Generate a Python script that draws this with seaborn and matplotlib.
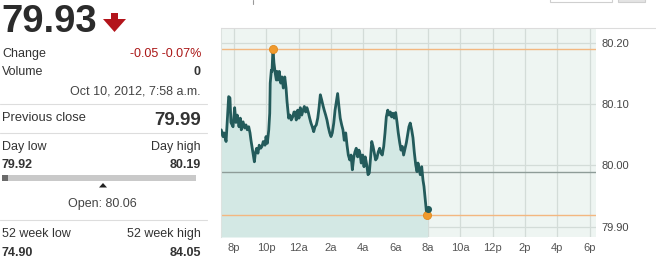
import matplotlib
matplotlib.use("Agg")
import matplotlib.pyplot as plt
import matplotlib.transforms as mtransforms
from matplotlib.patches import Polygon, Rectangle
from matplotlib.lines import Line2D
import seaborn as sns
import pandas as pd

# ---------------- data ----------------
hours = [19.21, 19.32, 19.38, 19.51, 19.67, 19.75, 19.81, 19.94, 20.04, 20.12,
         20.20, 20.31, 20.39, 20.45, 20.56, 20.66, 20.74, 20.82, 20.91, 20.99,
         21.05, 21.11, 21.19, 21.26, 21.32, 21.40, 21.48, 21.56, 21.65, 21.73,
         21.81, 21.92, 21.98, 22.06, 22.15, 22.21, 22.24, 22.31, 22.35, 22.41,
         22.47, 22.55, 22.62, 22.66, 22.72, 22.80, 22.89, 22.97, 23.05, 23.14,
         23.22, 23.28, 23.38, 23.46, 23.54, 23.63, 23.71, 23.77, 23.85, 23.94,
         24.02, 24.10, 24.19, 24.27, 24.35, 24.43, 24.51, 24.59, 24.68, 24.76,
         24.84, 24.93, 25.01, 25.09, 25.18, 25.26, 25.34, 25.42, 25.50, 25.58,
         25.67, 25.75, 25.83, 25.92, 26.00, 26.08, 26.17, 26.25, 26.33, 26.41,
         26.49, 26.57, 26.66, 26.74, 26.82, 26.91, 26.99, 27.07, 27.16, 27.24,
         27.32, 27.40, 27.48, 27.56, 27.65, 27.73, 27.79, 27.87, 27.96, 28.04,
         28.12, 28.21, 28.29, 28.37, 28.45, 28.52, 28.60, 28.68, 28.76, 28.84,
         28.92, 29.01, 29.09, 29.17, 29.26, 29.34, 29.42, 29.51, 29.59, 29.67,
         29.75, 29.83, 29.91, 30.00, 30.08, 30.16, 30.25, 30.33, 30.41, 30.49,
         30.58, 30.66, 30.74, 30.82, 30.90, 30.99, 31.07, 31.15, 31.24, 31.32,
         31.38, 31.44, 31.52, 31.61, 31.69, 31.75, 31.81, 31.87, 31.92, 31.97]
prices = [80.058, 80.047, 80.053, 80.039, 80.112, 80.110, 80.070, 80.063, 80.094, 80.070,
          80.082, 80.063, 80.077, 80.058, 80.071, 80.061, 80.066, 80.058, 80.063, 80.053,
          80.041, 80.031, 80.017, 80.006, 80.020, 80.028, 80.020, 80.033, 80.028, 80.031,
          80.039, 80.033, 80.047, 80.036, 80.058, 80.085, 80.134, 80.155, 80.153, 80.190,
          80.167, 80.150, 80.139, 80.153, 80.139, 80.153, 80.134, 80.144, 80.126, 80.144,
          80.126, 80.104, 80.077, 80.082, 80.074, 80.079, 80.087, 80.087, 80.074, 80.090,
          80.077, 80.094, 80.082, 80.090, 80.096, 80.087, 80.094, 80.087, 80.077, 80.069,
          80.063, 80.055, 80.063, 80.066, 80.077, 80.094, 80.115, 80.107, 80.098, 80.090,
          80.082, 80.074, 80.063, 80.053, 80.047, 80.053, 80.069, 80.090, 80.104, 80.117,
          80.096, 80.077, 80.066, 80.058, 80.041, 80.053, 80.033, 80.017, 80.009, 80.017,
          79.993, 80.012, 80.022, 80.028, 80.014, 80.025, 80.020, 80.004, 80.017, 79.998,
          80.014, 80.001, 79.985, 79.988, 80.014, 80.039, 80.031, 80.020, 80.009, 80.012,
          80.022, 80.028, 80.020, 80.017, 80.031, 80.053, 80.079, 80.090, 80.082, 80.087,
          80.079, 80.085, 80.077, 80.086, 80.071, 80.053, 80.037, 80.025, 80.031, 80.017,
          80.028, 80.037, 80.050, 80.063, 80.069, 80.058, 80.045, 80.022, 80.001, 79.990,
          80.004, 79.996, 79.985, 79.998, 79.976, 79.966, 79.950, 79.933, 79.920, 79.930]

tick_hours = [20, 22, 24, 26, 28, 30, 32, 34, 36, 38, 40, 42]
tick_labels = ["8p", "10p", "12a", "2a", "4a", "6a", "8a", "10a", "12p", "2p", "4p", "6p"]
price_ticks = [79.90, 80.00, 80.10, 80.20]
price_tick_labels = ["79.90", "80.00", "80.10", "80.20"]

last_price = "79.93"
change_text = "-0.05 -0.07%"
volume_text = "0"
stamp_text = "Oct 10, 2012, 7:58 a.m."
prev_close = 79.99
day_low = 79.92
day_high = 80.19
open_price = 80.06
week52_low = 74.90
week52_high = 84.05

df = pd.DataFrame({"hour": hours, "price": prices})

# ---------------- figure ----------------
W, H = 656, 260
sns.set_theme(style="white")
plt.rcParams["font.family"] = ["Liberation Sans", "DejaVu Sans"]

fig = plt.figure(figsize=(W / 100, H / 100), dpi=100)
fig.patch.set_facecolor("white")
px = mtransforms.Affine2D().scale(1 / W, -1 / H).translate(0, 1) + fig.transFigure

# chart axes: x 221..596, y 28..237
ax = fig.add_axes([221 / W, (H - 237) / H, 375 / W, 209 / H])
ax.set_facecolor("#eef5f2")

x_lo, x_hi = 19.196, 42.39
y_lo, y_hi = 79.8837, 80.2236
ax.set_xlim(x_lo, x_hi)
ax.set_ylim(y_lo, y_hi)

for t in tick_hours:
    ax.axvline(t, color="#d3dcd8", lw=0.9, zorder=0)
for p in price_ticks:
    ax.axhline(p, color="#d3dcd8", lw=0.9, zorder=0)

ax.fill_between(df["hour"], df["price"], y_lo, color="#d3e8e4", lw=0, zorder=1)

ax.axhline(prev_close, color="#8e9c98", lw=1.0, zorder=2)
ax.axhline(day_high, color="#f3b780", lw=1.0, zorder=2)
ax.axhline(day_low, color="#f3b780", lw=1.0, zorder=2)

sns.lineplot(data=df, x="hour", y="price", ax=ax, color="#235b5b", lw=2.0,
             zorder=3, legend=False)

hi_idx = prices.index(max(prices))
lo_idx = prices.index(min(prices))
ext = pd.DataFrame({"hour": [hours[hi_idx], hours[lo_idx]],
                    "price": [prices[hi_idx], prices[lo_idx]]})
sns.scatterplot(data=ext, x="hour", y="price", ax=ax, color="#f09a2c", s=34,
                edgecolor="#e08a20", linewidth=0.6, zorder=5, legend=False)
last = pd.DataFrame({"hour": [hours[-1]], "price": [prices[-1]]})
sns.scatterplot(data=last, x="hour", y="price", ax=ax, color="#235b5b", s=26,
                edgecolor="#235b5b", linewidth=0, zorder=6, legend=False)

ax.set_xticks(tick_hours)
ax.set_xticklabels(tick_labels)
ax.set_yticks(price_ticks)
ax.set_yticklabels(price_tick_labels)
ax.yaxis.tick_right()
ax.tick_params(axis="x", length=0, pad=4, labelsize=8, labelcolor="#555555")
ax.tick_params(axis="y", length=0, pad=4, labelsize=8, labelcolor="#444444")
ax.set_xlabel("")
ax.set_ylabel("")
for s in ["top", "right", "bottom"]:
    ax.spines[s].set_visible(False)
ax.spines["left"].set_color("#dde3e0")
ax.spines["left"].set_linewidth(0.8)

# top border line extending to the right edge
fig.add_artist(Line2D([221, 656], [28, 28], color="#dcdcdc", lw=0.8, transform=px))
# bits of the page UI at the top
fig.add_artist(Line2D([253, 253], [0, 4], color="#999999", lw=0.8, transform=px))
fig.add_artist(Rectangle((550, -3), 62, 5, fill=False, ec="#cfcfcf", lw=0.8, transform=px))
fig.add_artist(Rectangle((618, -3), 27, 5, fc="#e4e4e4", ec="#cfcfcf", lw=0.8, transform=px))

# ---------------- left info panel ----------------
dark = "#333333"
RX = 201


def txt(x, y, s, **kw):
    kw.setdefault("color", dark)
    kw.setdefault("fontsize", 9)
    kw.setdefault("va", "baseline")
    fig.text(x / W, 1 - y / H, s, **kw)


txt(1, 32, last_price, fontsize=27.5, fontweight="bold", color="#2b2b2b")
# red down arrow
arrow = [(111, 13), (118, 13), (118, 19), (126, 19), (114.5, 32), (103, 19), (111, 19)]
fig.add_artist(Polygon(arrow, closed=True, fc="#b3141b", ec="none", transform=px))

txt(2, 57, "Change")
txt(RX, 57, change_text, ha="right", color="#aa1717")
txt(2, 75, "Volume")
txt(RX, 75, volume_text, ha="right", fontweight="bold")
txt(RX, 95, stamp_text, ha="right", color="#444444")
fig.add_artist(Line2D([0, 207], [103.5, 103.5], color="#dddddd", lw=0.8, transform=px))

txt(2, 121, "Previous close", fontsize=9.3)
txt(RX, 124.5, f"{prev_close:.2f}", ha="right", fontsize=13.5, fontweight="bold")
fig.add_artist(Line2D([0, 207], [133, 133], color="#dddddd", lw=0.8, transform=px))

txt(2, 150, "Day low")
txt(RX, 150, "Day high", ha="right")
txt(2, 168, f"{day_low:.2f}", fontweight="bold")
txt(RX, 168, f"{day_high:.2f}", ha="right", fontweight="bold")
fig.add_artist(Rectangle((2, 174.5), 194, 6.5, fc="#c9c9c9", ec="none", transform=px))
fig.add_artist(Rectangle((2, 174.5), 6, 6.5, fc="#6a6a6a", ec="none", transform=px))
fig.add_artist(Polygon([(99, 187.5), (107, 187.5), (103, 183)], closed=True,
                       fc="#222222", ec="none", transform=px))
txt(102.5, 207, f"Open: {open_price:.2f}", ha="center", color="#444444")
fig.add_artist(Line2D([0, 207], [219.5, 219.5], color="#dddddd", lw=0.8, transform=px))

txt(2, 237, "52 week low")
txt(RX, 237, "52 week high", ha="right")
txt(2, 256, f"{week52_low:.2f}", fontweight="bold")
txt(RX, 256, f"{week52_high:.2f}", ha="right", fontweight="bold")

fig.savefig("out.png", dpi=100, facecolor="white")
